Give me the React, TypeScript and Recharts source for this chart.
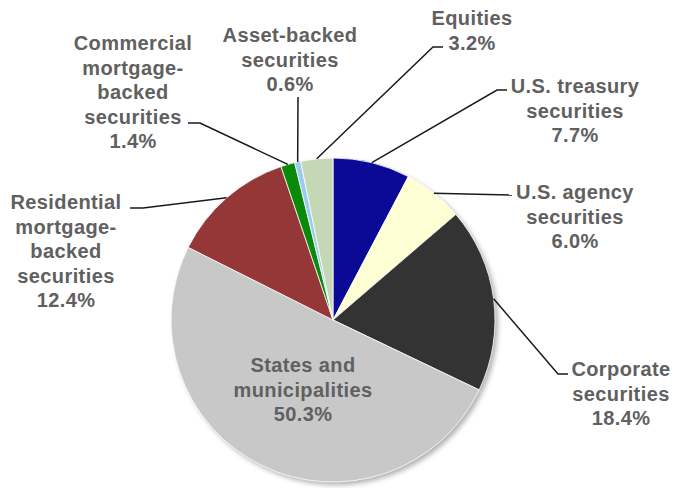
import { PieChart, Pie, Cell } from 'recharts';

// Investment portfolio composition, clockwise from 12 o'clock
const CATEGORIES = [
  'U.S. treasury securities',
  'U.S. agency securities',
  'Corporate securities',
  'States and municipalities',
  'Residential mortgage-backed securities',
  'Commercial mortgage-backed securities',
  'Asset-backed securities',
  'Equities',
];
const SHARES = [7.7, 6.0, 18.4, 50.3, 12.4, 1.4, 0.6, 3.2];
const LABEL_LINES = [
  ['U.S. treasury', 'securities'],
  ['U.S. agency', 'securities'],
  ['Corporate', 'securities'],
  ['States and', 'municipalities'],
  ['Residential', 'mortgage-', 'backed', 'securities'],
  ['Commercial', 'mortgage-', 'backed', 'securities'],
  ['Asset-backed', 'securities'],
  ['Equities'],
];

const COLORS = ['#0a0a96', '#ffffd6', '#333333', '#c8c8c8', '#963737', '#0a8a0a', '#9ccbf0', '#c5d8b5'];

// label text position (centre x, first baseline) and leader line bends after the slice edge
const LABEL_LAYOUT = [
  { x: 575, y: 93, path: [[497, 90], [507, 90]] },
  { x: 575, y: 199, path: [[512, 195]] },
  { x: 621, y: 376, path: [[558, 374], [568, 374]] },
  { x: 303, y: 372, path: null },
  { x: 66, y: 209, path: [[143, 208], [130, 208]] },
  { x: 133, y: 50, path: [[200, 123], [188, 123]] },
  { x: 290, y: 42, path: [[298, 97]] },
  { x: 472, y: 25, path: [[433, 47], [443, 47]] },
];

const LINE_GAP = 24.5;
const RAD = Math.PI / 180;

const data = CATEGORIES.map((name, i) => ({ name, value: SHARES[i] }));

function renderLabel(props: any) {
  const { cx, cy, midAngle, outerRadius, index, value } = props;
  const lay = LABEL_LAYOUT[index];
  const ex = cx + outerRadius * Math.cos(-midAngle * RAD);
  const ey = cy + outerRadius * Math.sin(-midAngle * RAD);
  const lines = [...LABEL_LINES[index], value.toFixed(1) + '%'];
  const pts = lay.path ? [[ex, ey], ...lay.path].map((p) => p.join(',')).join(' ') : null;
  return (
    <g key={`label-${index}`}>
      {pts && <polyline points={pts} fill="none" stroke="#1a1a1a" strokeWidth={1.5} />}
      <text
        x={lay.x}
        textAnchor="middle"
        fill="#606060"
        fontFamily="'Liberation Sans', Arial, sans-serif"
        fontWeight="bold"
        fontSize={20}
        letterSpacing={0.4}
      >
        {lines.map((l, i) => (
          <tspan key={i} x={lay.x} y={lay.y + i * LINE_GAP}>
            {l}
          </tspan>
        ))}
      </text>
    </g>
  );
}

export default function App() {
  return (
    <div style={{ position: 'absolute', left: 0, top: 0, width: 675, height: 488, background: '#fff' }}>
      <style>{`body{margin:0}`}</style>
      <PieChart width={675} height={488} margin={{ top: 0, right: 0, bottom: 0, left: 0 }}>
        {/* soft drop shadow behind the pie */}
        <Pie
          data={data}
          dataKey="value"
          cx={336}
          cy={323}
          outerRadius={162}
          startAngle={90}
          endAngle={-270}
          stroke="none"
          isAnimationActive={false}
        >
          {data.map((_, i) => (
            <Cell key={`sh-${i}`} fill="#000" fillOpacity={0.3} style={{ filter: 'blur(2.5px)' }} />
          ))}
        </Pie>
        <Pie
          data={data}
          dataKey="value"
          nameKey="name"
          cx={333}
          cy={320}
          outerRadius={162}
          startAngle={90}
          endAngle={-270}
          stroke="#fff"
          strokeWidth={0.8}
          label={renderLabel}
          labelLine={false}
          isAnimationActive={false}
        >
          {data.map((_, i) => (
            <Cell key={`cell-${i}`} fill={COLORS[i]} />
          ))}
        </Pie>
      </PieChart>
    </div>
  );
}
